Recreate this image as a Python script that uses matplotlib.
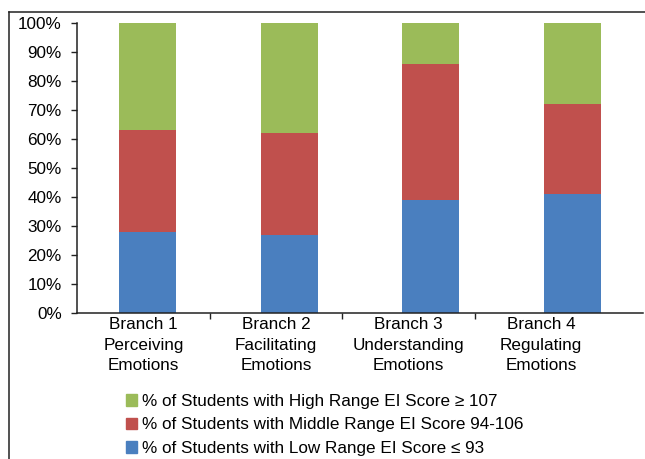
import matplotlib
matplotlib.use("Agg")
import matplotlib.pyplot as plt
from matplotlib.patches import Patch
from matplotlib.lines import Line2D
import numpy as np

plt.rcParams['font.family'] = ['Liberation Sans', 'DejaVu Sans']

categories = ["Branch 1\nPerceiving\nEmotions", "Branch 2\nFacilitating\nEmotions",
              "Branch 3\nUnderstanding\nEmotions", "Branch 4\nRegulating\nEmotions"]
low = [28, 27, 39, 41]
middle = [35, 35, 47, 31]
high = [37, 38, 14, 28]
yticklabels = ["0%", "10%", "20%", "30%", "40%", "50%", "60%", "70%", "80%", "90%", "100%"]
legend_labels = ["% of Students with High Range EI Score \u2265 107",
                 "% of Students with Middle Range EI Score 94-106",
                 "% of Students with Low Range EI Score \u2264 93"]

c_low, c_mid, c_high = "#4A7FBF", "#C0504D", "#9BBB59"
FS = 12.3

fig = plt.figure(figsize=(6.45, 4.59), dpi=100)
ax = fig.add_axes([77/645, 146/459, 566/645, 290/459])

x = np.arange(len(categories))
w = 57/141.5
ax.bar(x, low, width=w, color=c_low)
ax.bar(x, middle, width=w, bottom=low, color=c_mid)
ax.bar(x, high, width=w, bottom=np.array(low) + np.array(middle), color=c_high)

ax.set_xlim(-0.5, 3.5)
ax.set_ylim(0, 100)
ax.set_yticks(np.arange(0, 101, 10))
ax.set_yticklabels(yticklabels, fontsize=FS)
ax.tick_params(axis='y', direction='out', length=4, width=1.0, pad=7, color='#222222')

# category labels & divider ticks (as drawn in the reference)
step = 0.936
label_pos = [-0.03 + i*step for i in range(4)]
div_pos = [p + step/2 for p in label_pos[:3]]
ax.set_xticks(div_pos)
ax.set_xticklabels([])
ax.tick_params(axis='x', which='major', direction='out', length=4, width=1.0, color='#222222')
ax.set_xticks(label_pos, minor=True)
ax.set_xticklabels(categories, minor=True, fontsize=FS, linespacing=1.45)
ax.tick_params(axis='x', which='minor', length=0, pad=3)

for s in ['top', 'right']:
    ax.spines[s].set_visible(False)
for s in ['left', 'bottom']:
    ax.spines[s].set_linewidth(1.1)
    ax.spines[s].set_color('#222222')

# outer frame (left and top)
fig.add_artist(Line2D([9/645, 9/645], [0, 1 - 12/459], transform=fig.transFigure, color='#222222', lw=1.1))
fig.add_artist(Line2D([9/645, 1], [1 - 12/459, 1 - 12/459], transform=fig.transFigure, color='#222222', lw=1.1))

handles = [Patch(color=c_high), Patch(color=c_mid), Patch(color=c_low)]
fig.legend(handles, legend_labels, loc='center left', bbox_to_anchor=(126/645, 34/459),
           frameon=False, fontsize=FS, handlelength=0.65, handleheight=0.65,
           handletextpad=0.3, labelspacing=0.5, borderpad=0, borderaxespad=0)

fig.savefig("out.png", dpi=100)
